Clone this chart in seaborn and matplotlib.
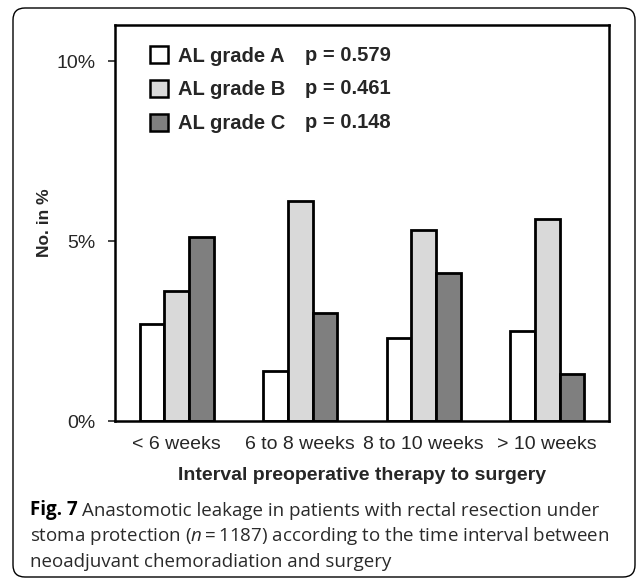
import numpy as np
import pandas as pd
import seaborn as sns
import matplotlib.pyplot as plt
import matplotlib.transforms as mtransforms
from matplotlib.patches import Patch, FancyBboxPatch

# values (percent)
intervals = ['< 6 weeks', '6 to 8 weeks', '8 to 10 weeks', '> 10 weeks']
grades = ['AL grade A', 'AL grade B', 'AL grade C']
grade_a = [2.7, 1.4, 2.3, 2.5]
grade_b = [3.6, 6.1, 5.3, 5.6]
grade_c = [5.1, 3.0, 4.1, 1.3]
p_values = ['p = 0.579', 'p = 0.461', 'p = 0.148']
colors = ['#ffffff', '#d9d9d9', '#7f7f7f']

df = pd.DataFrame({
    'interval': intervals * 3,
    'grade': [g for g in grades for _ in intervals],
    'pct': grade_a + grade_b + grade_c,
})

sns.set_style('white')
plt.rcParams['font.family'] = ['Liberation Sans', 'DejaVu Sans']
plt.rcParams['mathtext.fontset'] = 'custom'
plt.rcParams['mathtext.it'] = 'Open Sans:italic'
plt.rcParams['mathtext.rm'] = 'Open Sans'

fig = plt.figure(figsize=(6.37, 5.82), dpi=100)
ax = fig.add_axes([115 / 637, 1 - 421 / 582, 494 / 637, 396 / 582])

sns.barplot(data=df, x='interval', y='pct', hue='grade', palette=colors,
            width=0.6, edgecolor='black', linewidth=2.0, legend=False, ax=ax)

ax.set_ylim(0, 11)
ax.set_yticks([0, 5, 10])
ax.set_yticklabels(['0%', '5%', '10%'])
ax.tick_params(axis='y', length=5, width=1.2, pad=9, labelsize=14, left=True)
ax.tick_params(axis='x', length=0, pad=11, labelsize=14)
for s in ax.spines.values():
    s.set_linewidth(1.8)
    s.set_color('black')
ax.set_xlabel('Interval preoperative therapy to surgery', fontsize=14,
              fontweight='bold', labelpad=10)
ax.set_ylabel('No. in %', fontsize=12.5, fontweight='bold', labelpad=3)

# legend with p values
handles = [Patch(facecolor=c, edgecolor='black', linewidth=1.8) for c in colors]
ax.legend(handles, grades, loc='upper left', bbox_to_anchor=(0.071, 0.946),
          frameon=False, borderpad=0, borderaxespad=0, handlelength=0.9,
          handleheight=0.9, handletextpad=0.5, labelspacing=0.72,
          prop={'weight': 'bold', 'size': 14.5})
for i, p in enumerate(p_values):
    ax.text(0.385, 0.924 - i * 0.0845, p, transform=ax.transAxes,
            fontsize=14.5, fontweight='bold', va='center', ha='left')

# caption
cap = {'family': 'Open Sans', 'size': 13.5, 'color': '#2a2a2a'}
t1 = fig.text(30 / 637, 1 - 515 / 582, 'Fig. 7', fontdict=cap,
              fontweight='bold', color='black', va='baseline')
fig.add_artist(plt.Annotation(
    'Anastomotic leakage in patients with rectal resection under',
    xy=(1, 0), xycoords=t1, xytext=(3, 0), textcoords='offset points',
    va='bottom', ha='left', **cap))
fig.text(30 / 637, 1 - 541 / 582,
         'stoma protection ($n$\u2009=\u20091187) according to the time interval between',
         fontdict=cap, va='baseline')
fig.text(30 / 637, 1 - 567 / 582, 'neoadjuvant chemoradiation and surgery',
         fontdict=cap, va='baseline')

# rounded outer frame
frame = FancyBboxPatch((13, 5), 622, 569, boxstyle='round,pad=0,rounding_size=12',
                       facecolor='none', edgecolor='black', linewidth=1.0,
                       transform=mtransforms.IdentityTransform())
fig.add_artist(frame)

fig.savefig('out.png', dpi=100)
